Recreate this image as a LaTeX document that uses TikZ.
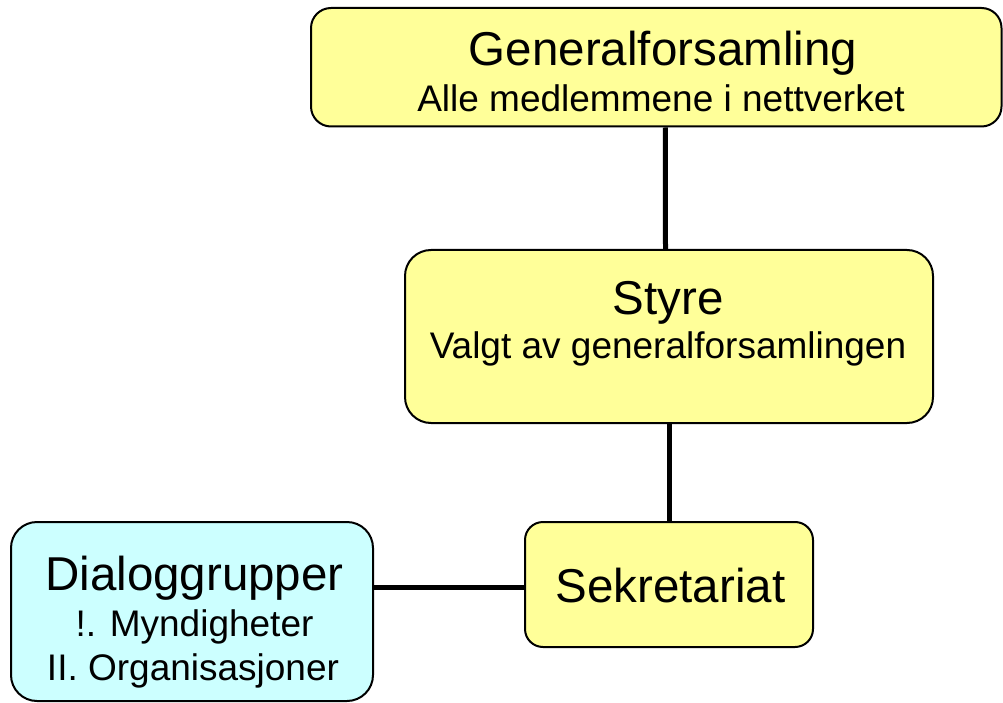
\documentclass[tikz,border=0pt]{standalone}
\usepackage{fontspec}
\setmainfont{Liberation Sans}
\definecolor{boxyellow}{HTML}{FFFF99}
\definecolor{boxcyan}{HTML}{CCFFFF}
\begin{document}
\begin{tikzpicture}[x=1pt,y=-1pt,
  box/.style={draw=black, line width=2pt, rounded corners=#1, inner sep=0pt},
  box/.default=20pt,
  conn/.style={draw=black, line width=5pt},
  title/.style={anchor=base, inner sep=0pt, font=\fontsize{47.5}{57}\selectfont},
  sub/.style={anchor=base, inner sep=0pt, font=\fontsize{37}{44}\selectfont}]
\useasboundingbox (0,0) rectangle (1003,703);
% boxes
\node[box=20pt, fill=boxyellow, minimum width=690.5pt, minimum height=118.5pt] (gf) at (656.25,67.25) {};
\node[box=26pt, fill=boxyellow, minimum width=528pt, minimum height=173pt] (st) at (669,336.5) {};
\node[box=18pt, fill=boxyellow, minimum width=288pt, minimum height=125pt] (se) at (669,584.5) {};
\node[box=26pt, fill=boxcyan, minimum width=362pt, minimum height=179pt] (dg) at (192,611.5) {};
% connectors
\draw[conn] ([xshift=9pt]gf.south) -- ([xshift=-3.5pt]st.north);
\draw[conn] (st.south) -- (se.north);
\coordinate (sw) at ([yshift=-3pt]se.west);
\draw[conn] (dg.east |- sw) -- (sw);
% texts
\node[title] (gft) at (663,66) {Generalforsamling};
\node[sub] (gfs) at (661,112) {Alle medlemmene i nettverket};
\node[title] (stt) at (668,314) {Styre};
\node[sub] (sts) at (668,358) {Valgt av generalforsamlingen};
\node[title] (set) at (670.5,602) {Sekretariat};
\node[title] (dgt) at (194.5,590) {Dialoggrupper};
\node[sub] (dgs1) at (194.5,636) {!. Myndigheter};
\node[sub] (dgs2) at (193,680) {II. Organisasjoner};
\end{tikzpicture}
\end{document}
